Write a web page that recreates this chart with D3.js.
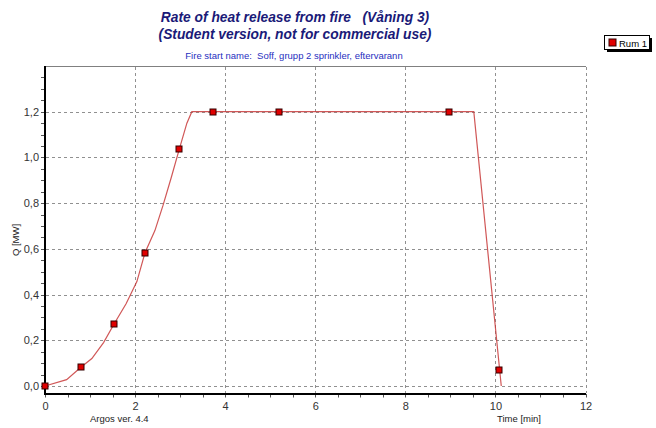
<!DOCTYPE html>
<html><head><meta charset="utf-8">
<script src="https://cdn.jsdelivr.net/npm/d3@7"></script>
<style>body{margin:0;background:#fff}svg{display:block}text{font-family:"Liberation Sans",Arial,sans-serif;white-space:pre}</style>
</head><body>
<svg id="c" width="656" height="428"></svg>
<script>
const titleLines = ["Rate of heat release from fire   (Våning 3)", "(Student version, not for commercial use)"];
const subtitle = "Fire start name:  Soff, grupp 2 sprinkler, eftervarann";
const seriesName = "Rum 1";
const xTicks = [0, 2, 4, 6, 8, 10, 12];
const yTicks = [0, 0.2, 0.4, 0.6, 0.8, 1.0, 1.2];
const curveT = [0, 0.48, 0.79, 1.04, 1.3, 1.53, 1.8, 2.04, 2.22, 2.44, 2.62, 2.8, 2.98, 3.15, 3.26, 9.52, 10.13];
const curveQ = [0, 0.028, 0.081, 0.12, 0.19, 0.27, 0.36, 0.457, 0.583, 0.68, 0.79, 0.91, 1.035, 1.15, 1.2, 1.2, 0];
const markT = [0, 0.79, 1.53, 2.22, 2.98, 3.73, 5.2, 8.98, 10.08];
const markQ = [0, 0.081, 0.27, 0.583, 1.035, 1.2, 1.2, 1.2, 0.07];

const svg = d3.select("#c");
const x = d3.scaleLinear().domain([0, 12]).range([45, 585.5]);
const y = d3.scaleLinear().domain([-0.035, 1.4]).range([394, 66]);
const fmt = d => d3.format(".1f")(d).replace(".", ",");

svg.append("line").attr("x1", 45).attr("x2", 586).attr("y1", 66.5).attr("y2", 66.5).attr("stroke", "#808080").attr("stroke-width", 1);

const g = svg.append("g");
g.selectAll(".gx").data(xTicks.slice(1)).enter().append("line")
  .attr("x1", d => Math.round(x(d)) + 0.5).attr("x2", d => Math.round(x(d)) + 0.5)
  .attr("y1", 67).attr("y2", 393).attr("stroke", "#909090").attr("stroke-dasharray", "3,3");
g.selectAll(".gy").data(yTicks).enter().append("line")
  .attr("x1", 46).attr("x2", 586).attr("y1", d => Math.round(y(d)) + 0.5).attr("y2", d => Math.round(y(d)) + 0.5)
  .attr("stroke", "#909090").attr("stroke-dasharray", "3,3");

const xAxis = d3.axisBottom(x).tickValues(xTicks).tickFormat(d3.format("d")).tickSize(0).tickPadding(8);
const ax = svg.append("g").attr("transform", "translate(0,394)").call(xAxis);
ax.select(".domain").remove();
ax.selectAll("text").attr("font-size", 11).attr("fill", "#333").attr("font-family", "Liberation Sans, Arial");
const xMinor = d3.range(0, 12.01, 0.5);
svg.append("g").selectAll("line").data(xMinor).enter().append("line")
  .attr("x1", d => Math.round(x(d)) + 0.5).attr("x2", d => Math.round(x(d)) + 0.5)
  .attr("y1", 394).attr("y2", 397.5).attr("stroke", "#555");

const yAxis = d3.axisLeft(y).tickValues(yTicks).tickFormat(fmt).tickSize(0).tickPadding(6);
const ay = svg.append("g").attr("transform", "translate(45,0)").call(yAxis);
ay.select(".domain").remove();
ay.selectAll("text").attr("font-size", 11).attr("fill", "#333").attr("font-family", "Liberation Sans, Arial");
const yMinor = d3.range(0, 1.36, 0.05);
svg.append("g").selectAll("line").data(yMinor).enter().append("line")
  .attr("x1", 41).attr("x2", 45).attr("y1", d => Math.round(y(d)) + 0.5).attr("y2", d => Math.round(y(d)) + 0.5)
  .attr("stroke", "#555");

svg.append("line").attr("x1", 45).attr("x2", 45).attr("y1", 66).attr("y2", 395).attr("stroke", "#000").attr("stroke-width", 2);
svg.append("line").attr("x1", 44).attr("x2", 586).attr("y1", 394).attr("y2", 394).attr("stroke", "#000").attr("stroke-width", 2);

const pts = curveT.map((t, i) => [t, curveQ[i]]);
svg.append("path").datum(pts)
  .attr("d", d3.line().x(d => x(d[0])).y(d => y(d[1])))
  .attr("fill", "none").attr("stroke", "#c83a3a").attr("stroke-width", 1.2).attr("stroke-opacity", 0.85);

svg.append("g").selectAll("rect").data(markT.map((t, i) => [t, markQ[i]])).enter().append("rect")
  .attr("x", d => Math.round(x(d[0])) - 3).attr("y", d => Math.round(y(d[1])) - 3)
  .attr("width", 6).attr("height", 6).attr("fill", "#e00000").attr("stroke", "#300").attr("stroke-width", 1);

svg.selectAll(".tt").data(titleLines).enter().append("text")
  .attr("x", 295).attr("y", (d, i) => 22 + i * 16.5).attr("text-anchor", "middle")
  .attr("font-size", 13.8).attr("font-weight", "bold").attr("font-style", "italic").attr("fill", "#1a1a78").text(d => d);
svg.append("text").attr("x", 294).attr("y", 58.5).attr("text-anchor", "middle")
  .attr("font-size", 9.5).attr("fill", "#1f2fc0").text(subtitle);

svg.append("text").attr("transform", "translate(19,240) rotate(-90)").attr("text-anchor", "middle")
  .attr("font-size", 9.5).attr("fill", "#222").text("Q [MW]");
svg.append("text").attr("x", 497).attr("y", 422).attr("font-size", 9.5).attr("fill", "#222").text("Time [min]");
svg.append("text").attr("x", 90).attr("y", 422).attr("font-size", 9.5).attr("fill", "#222").text("Argos ver. 4.4");

const lg = svg.append("g");
lg.append("rect").attr("x", 607).attr("y", 38).attr("width", 45).attr("height", 14).attr("fill", "#000");
lg.append("rect").attr("x", 604.5).attr("y", 35.5).attr("width", 45).attr("height", 14).attr("fill", "#fff").attr("stroke", "#000");
lg.append("rect").attr("x", 609).attr("y", 39).attr("width", 7).attr("height", 7).attr("fill", "#e00000").attr("stroke", "#300");
lg.append("text").attr("x", 619).attr("y", 46.5).attr("font-size", 9.5).attr("fill", "#000").text(seriesName);
</script>
</body></html>
